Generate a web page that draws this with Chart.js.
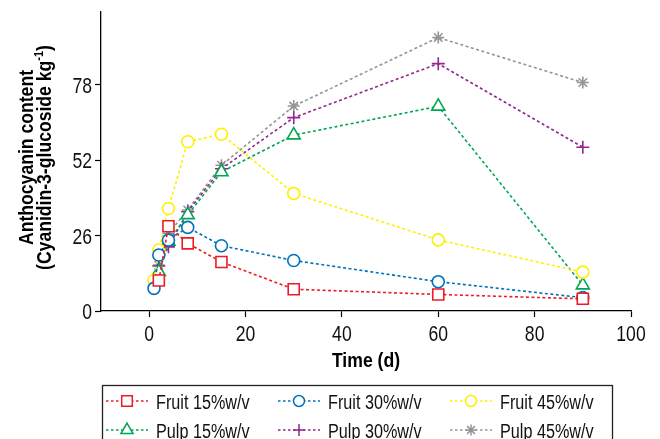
<!DOCTYPE html>
<html>
<head>
<meta charset="utf-8">
<title>Anthocyanin content</title>
<script src="https://cdn.jsdelivr.net/npm/chart.js@4/dist/chart.umd.min.js"></script>
<style>
    html, body { margin: 0; padding: 0; background: #fff; }
    #wrap { width: 660px; height: 439px; }
</style>
</head>
<body>
<div id="wrap"><canvas id="anthoChart" width="660" height="439"></canvas></div>
<script>
(function () {
    'use strict';

    // storage time (days)
    const days = [1, 2, 4, 8, 15, 30, 60, 90];

    // anthocyanin content, cyanidin-3-glucoside per kg (null = not measured)
    const fruit15 = [null, 10.5, 29.2, 23.3, 16.9, 7.5, 5.7, 4.2];
    const fruit30 = [7.8, 19.3, 24.4, 28.8, 22.5, 17.4, 10.1, 4.6];
    const fruit45 = [10.5, 21.0, 35.3, 58.3, 60.9, 40.5, 24.5, 13.4];
    const pulp15 = [null, 13.5, 24.0, 33.1, 47.9, 60.6, 70.5, 8.9];
    const pulp30 = [null, 15.5, 22.1, 34.2, 49.0, 66.6, 85.2, 56.4];
    const pulp45 = [null, 15.8, 26.7, 34.8, 50.2, 70.6, 94.2, 78.7];

    const seriesNames = ['Fruit 15%w/v', 'Fruit 30%w/v', 'Fruit 45%w/v', 'Pulp 15%w/v', 'Pulp 30%w/v', 'Pulp 45%w/v'];
    const xTicks = [0, 20, 40, 60, 80, 100];
    const yTicks = [0, 26, 52, 78];

    const X_TITLE = 'Time (d)';
    const Y_TITLE_1 = 'Anthocyanin content';
    const Y_TITLE_2 = '(Cyanidin-3-glucoside kg';

    const FAMILY = '"Liberation Sans", Arial, sans-serif';

    const STYLES = [
        { color: '#ED1C24', point: 'rect', radius: 7.8 },
        { color: '#0072BC', point: 'circle', radius: 6 },
        { color: '#FFF000', point: 'circle', radius: 6 },
        { color: '#00A651', point: 'triangle', radius: 7.5 },
        { color: '#92278F', point: 'cross', radius: 6.5 },
        { color: '#939598', point: 'star', radius: 6 }
    ];

    function toPoints(values) {
        const pts = [];
        values.forEach((v, i) => {
            if (v !== null) pts.push({ x: days[i], y: v });
        });
        return pts;
    }

    const datasets = [fruit15, fruit30, fruit45, pulp15, pulp30, pulp45].map((vals, i) => ({
        label: seriesNames[i],
        data: toPoints(vals),
        borderColor: STYLES[i].color,
        borderWidth: 1.6,
        borderDash: [3, 2.5],
        pointStyle: STYLES[i].point,
        pointRadius: STYLES[i].radius,
        pointHoverRadius: STYLES[i].radius,
        pointBorderWidth: 1.6,
        pointBorderColor: STYLES[i].color,
        pointBackgroundColor: '#fff',
        fill: false,
        tension: 0
    }));

    /** Condensed text: regular face squeezed horizontally */
    function narrowText(ctx, text, x, y, o) {
        ctx.save();
        ctx.translate(x, y);
        if (o.rotate) ctx.rotate(-Math.PI / 2);
        ctx.scale(o.sx, 1);
        ctx.font = (o.bold ? 'bold ' : '') + o.size + 'px ' + FAMILY;
        ctx.fillStyle = o.color || '#111';
        ctx.textAlign = o.align || 'left';
        ctx.textBaseline = o.baseline || 'alphabetic';
        ctx.fillText(text, 0, 0);
        ctx.restore();
    }

    function narrowWidth(ctx, text, o) {
        ctx.save();
        ctx.font = (o.bold ? 'bold ' : '') + o.size + 'px ' + FAMILY;
        const w = ctx.measureText(text).width * o.sx;
        ctx.restore();
        return w;
    }

    /** Tick labels and axis titles */
    const axisText = {
        id: 'axisText',
        afterDraw(chart) {
            const ctx = chart.ctx;
            const xs = chart.scales.x;
            const ys = chart.scales.y;
            const area = chart.chartArea;
            const tick = { size: 22, sx: 0.8, align: 'center', baseline: 'alphabetic' };

            xTicks.forEach(v => {
                narrowText(ctx, String(v), xs.getPixelForValue(v), area.bottom + 29.5, tick);
            });
            yTicks.forEach(v => {
                narrowText(ctx, String(v), area.left - 9, ys.getPixelForValue(v) + 8,
                    Object.assign({}, tick, { align: 'right' }));
            });

            const title = { size: 20, sx: 0.88, bold: true, color: '#000', align: 'center', baseline: 'middle' };
            narrowText(ctx, X_TITLE, (area.left + area.right) / 2, area.bottom + 50, title);

            const cy = (area.top + area.bottom) / 2 - 4;
            narrowText(ctx, Y_TITLE_1, 27, cy, Object.assign({ rotate: true }, title));

            // second line with a superscript -1 on the unit
            const sup = { size: 12.5, sx: 0.88, bold: true, color: '#000', rotate: true, baseline: 'middle' };
            const w1 = narrowWidth(ctx, Y_TITLE_2, title);
            const w2 = narrowWidth(ctx, '-1', sup);
            const w3 = narrowWidth(ctx, ')', title);
            const total = w1 + w2 + w3;
            let pos = cy + total / 2;
            narrowText(ctx, Y_TITLE_2, 45, pos, Object.assign({}, title, { rotate: true, align: 'left' }));
            pos -= w1;
            narrowText(ctx, '-1', 40, pos, Object.assign({}, sup, { align: 'left' }));
            pos -= w2;
            narrowText(ctx, ')', 45, pos, Object.assign({}, title, { rotate: true, align: 'left' }));
        }
    };

    /** Legend box under the plot: dotted line sample + marker + label */
    const boxLegend = {
        id: 'boxLegend',
        afterDraw(chart) {
            const ctx = chart.ctx;
            const cols = [127, 299, 471];
            const rows = [401, 430];

            ctx.save();
            ctx.strokeStyle = '#222';
            ctx.lineWidth = 1.3;
            ctx.strokeRect(102.5, 385.5, 510, 70);

            chart.data.datasets.forEach((ds, i) => {
                const cx = cols[i % 3];
                const cy = rows[Math.floor(i / 3)];

                ctx.save();
                ctx.strokeStyle = ds.borderColor;
                ctx.lineWidth = 1.5;
                ctx.setLineDash([2.5, 2.5]);
                ctx.beginPath();
                ctx.moveTo(cx - 21, cy);
                ctx.lineTo(cx + 21, cy);
                ctx.stroke();
                ctx.restore();

                ctx.save();
                ctx.fillStyle = '#fff';
                ctx.strokeStyle = ds.borderColor;
                ctx.lineWidth = 1.5;
                const r = ds.pointStyle === 'rect' ? 7.5 : ds.pointRadius - 0.5;
                if (Chart.helpers && Chart.helpers.drawPoint) {
                    Chart.helpers.drawPoint(ctx, { pointStyle: ds.pointStyle, radius: r, borderWidth: 1.5, rotation: 0 }, cx, cy);
                }
                ctx.restore();

                narrowText(ctx, ds.label, cx + 29, cy + 7.5, { size: 20, sx: 0.81, color: '#111' });
            });
            ctx.restore();
        }
    };

    function init() {
        const canvas = document.getElementById('anthoChart');

        new Chart(canvas, {
            type: 'line',
            data: { datasets },
            options: {
                responsive: false,
                animation: false,
                layout: { padding: { top: 12, right: 29, bottom: 122, left: 95 } },
                plugins: {
                    legend: { display: false },
                    tooltip: { enabled: false }
                },
                scales: {
                    x: {
                        type: 'linear',
                        min: -10,
                        max: 100,
                        afterBuildTicks: (scale) => { scale.ticks = xTicks.map(v => ({ value: v })); },
                        border: { color: '#000', width: 1.3 },
                        grid: { drawOnChartArea: false, color: '#000', tickLength: 6, tickWidth: 1.2 },
                        ticks: { display: false }
                    },
                    y: {
                        min: 0,
                        max: 103,
                        afterBuildTicks: (scale) => { scale.ticks = yTicks.map(v => ({ value: v })); },
                        border: { color: '#000', width: 1.3 },
                        grid: { drawOnChartArea: false, color: '#000', tickLength: 6, tickWidth: 1.2 },
                        ticks: { display: false }
                    }
                }
            },
            plugins: [axisText, boxLegend]
        });
    }

    if (document.readyState === 'loading') {
        document.addEventListener('DOMContentLoaded', init);
    } else {
        init();
    }
})();
</script>
</body>
</html>
